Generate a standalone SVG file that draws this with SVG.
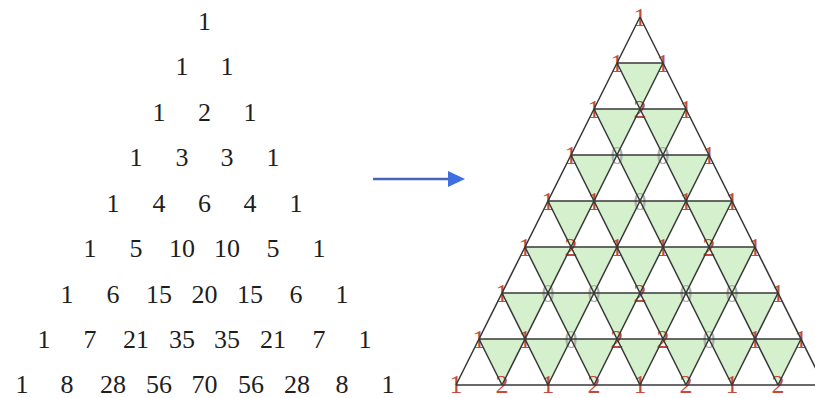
<svg xmlns="http://www.w3.org/2000/svg" width="815" height="398" viewBox="0 0 815 398">
<style>
.p{font-family:"Liberation Serif","Times New Roman",serif;font-size:26px;fill:#1e1e1e;text-anchor:middle}
.v{font-family:"Liberation Serif","Times New Roman",serif;font-size:26px;text-anchor:middle}
.r{fill:#c44a3a}
.z{fill:#a9b0a9}
.g{fill:#d5f0cc;stroke:none}
.ln{stroke:#383838;stroke-width:1.5;fill:none}
</style>
<defs>
<path id="dt" d="M0,0 L46,0 L23,46 Z"/>
<marker id="ah" markerWidth="17" markerHeight="16" refX="0" refY="8" orient="auto" markerUnits="userSpaceOnUse" viewBox="0 0 17 16">
<path d="M0,0 L17,8 L0,16 Z" fill="#3d6fe0"/>
</marker>
</defs>
<rect width="815" height="398" fill="#ffffff"/>
<g id="pascal">
<text class="p" x="204.5" y="30">1</text>
<text class="p" x="182" y="75">1</text><text class="p" x="227" y="75">1</text>
<text class="p" x="159" y="121">1</text><text class="p" x="204.5" y="121">2</text><text class="p" x="250" y="121">1</text>
<text class="p" x="136" y="166">1</text><text class="p" x="182" y="166">3</text><text class="p" x="227" y="166">3</text><text class="p" x="273" y="166">1</text>
<text class="p" x="113" y="212">1</text><text class="p" x="159" y="212">4</text><text class="p" x="204.5" y="212">6</text><text class="p" x="250" y="212">4</text><text class="p" x="296" y="212">1</text>
<text class="p" x="90" y="257">1</text><text class="p" x="136" y="257">5</text><text class="p" x="182" y="257">10</text><text class="p" x="227" y="257">10</text><text class="p" x="273" y="257">5</text><text class="p" x="319" y="257">1</text>
<text class="p" x="67" y="303">1</text><text class="p" x="113" y="303">6</text><text class="p" x="159" y="303">15</text><text class="p" x="204.5" y="303">20</text><text class="p" x="250" y="303">15</text><text class="p" x="296" y="303">6</text><text class="p" x="342" y="303">1</text>
<text class="p" x="44" y="348">1</text><text class="p" x="90" y="348">7</text><text class="p" x="136" y="348">21</text><text class="p" x="182" y="348">35</text><text class="p" x="227" y="348">35</text><text class="p" x="273" y="348">21</text><text class="p" x="319" y="348">7</text><text class="p" x="365" y="348">1</text>
<text class="p" x="22" y="393">1</text><text class="p" x="67" y="393">8</text><text class="p" x="113" y="393">28</text><text class="p" x="159" y="393">56</text><text class="p" x="204.5" y="393">70</text><text class="p" x="251" y="393">56</text><text class="p" x="297" y="393">28</text><text class="p" x="342" y="393">8</text><text class="p" x="388" y="393">1</text>
</g>
<g id="connectors">
<line x1="373" y1="179" x2="448" y2="179" stroke="#4766b8" stroke-width="2.5" marker-end="url(#ah)"/>
</g>
<g id="mod3-triangle">
<g id="shading">
<use href="#dt" class="g" x="617" y="63"/>
<use href="#dt" class="g" x="594" y="109"/><use href="#dt" class="g" x="640" y="109"/>
<use href="#dt" class="g" x="571" y="155"/><use href="#dt" class="g" x="617" y="155"/><use href="#dt" class="g" x="663" y="155"/>
<use href="#dt" class="g" x="548" y="201"/><use href="#dt" class="g" x="594" y="201"/><use href="#dt" class="g" x="640" y="201"/><use href="#dt" class="g" x="686" y="201"/>
<use href="#dt" class="g" x="525" y="247"/><use href="#dt" class="g" x="571" y="247"/><use href="#dt" class="g" x="617" y="247"/><use href="#dt" class="g" x="663" y="247"/><use href="#dt" class="g" x="709" y="247"/>
<use href="#dt" class="g" x="502" y="293"/><use href="#dt" class="g" x="548" y="293"/><use href="#dt" class="g" x="594" y="293"/><use href="#dt" class="g" x="640" y="293"/><use href="#dt" class="g" x="686" y="293"/><use href="#dt" class="g" x="732" y="293"/>
<use href="#dt" class="g" x="479" y="339"/><use href="#dt" class="g" x="525" y="339"/><use href="#dt" class="g" x="571" y="339"/><use href="#dt" class="g" x="617" y="339"/><use href="#dt" class="g" x="663" y="339"/><use href="#dt" class="g" x="709" y="339"/><use href="#dt" class="g" x="755" y="339"/>
</g>
<g id="labels">
<text class="v r" x="640" y="26">1</text>
<text class="v r" x="617" y="72">1</text><text class="v r" x="663" y="72">1</text>
<text class="v r" x="594" y="118">1</text><text class="v r" x="640" y="118">2</text><text class="v r" x="686" y="118">1</text>
<text class="v r" x="571" y="164">1</text><text class="v z" x="617" y="164">0</text><text class="v z" x="663" y="164">0</text><text class="v r" x="709" y="164">1</text>
<text class="v r" x="548" y="210">1</text><text class="v r" x="594" y="210">1</text><text class="v z" x="640" y="210">0</text><text class="v r" x="686" y="210">1</text><text class="v r" x="732" y="210">1</text>
<text class="v r" x="525" y="256">1</text><text class="v r" x="571" y="256">2</text><text class="v r" x="617" y="256">1</text><text class="v r" x="663" y="256">1</text><text class="v r" x="709" y="256">2</text><text class="v r" x="755" y="256">1</text>
<text class="v r" x="502" y="302">1</text><text class="v z" x="548" y="302">0</text><text class="v z" x="594" y="302">0</text><text class="v r" x="640" y="302">2</text><text class="v z" x="686" y="302">0</text><text class="v z" x="732" y="302">0</text><text class="v r" x="778" y="302">1</text>
<text class="v r" x="479" y="348">1</text><text class="v r" x="525" y="348">1</text><text class="v z" x="571" y="348">0</text><text class="v r" x="617" y="348">2</text><text class="v r" x="663" y="348">2</text><text class="v z" x="709" y="348">0</text><text class="v r" x="755" y="348">1</text><text class="v r" x="801" y="348">1</text>
<text class="v r" x="456" y="393">1</text><text class="v r" x="502" y="393">2</text><text class="v r" x="548" y="393">1</text><text class="v r" x="594" y="393">2</text><text class="v r" x="640" y="393">1</text><text class="v r" x="686" y="393">2</text><text class="v r" x="732" y="393">1</text><text class="v r" x="778" y="393">2</text>
</g>
<g id="grid" class="ln">
<path d="M617,63H663M594,109H686M571,155H709M548,201H732M525,247H755M502,293H778M479,339H801M456,385H824"/>
<path d="M640,17L456,385M663,63L502,385M686,109L548,385M709,155L594,385M732,201L640,385M755,247L686,385M778,293L732,385M801,339L778,385"/>
<path d="M640,17L824,385M617,63L778,385M594,109L732,385M571,155L686,385M548,201L640,385M525,247L594,385M502,293L548,385M479,339L502,385"/>
</g>
</g>
</svg>
